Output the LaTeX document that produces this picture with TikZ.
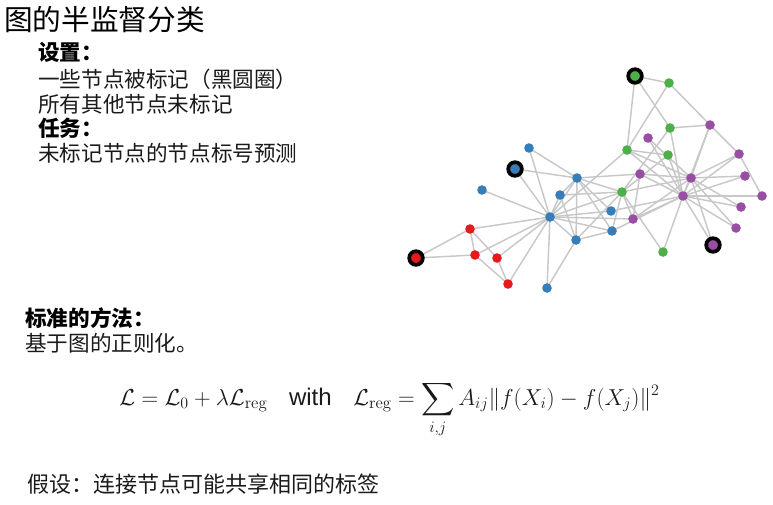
\documentclass[tikz,border=0pt]{standalone}
\usepackage{fontspec}
\usepackage{amsmath}
\usetikzlibrary{backgrounds}
\newfontfamily\cjk{Noto Sans CJK SC}
\newfontfamily\sfw{Liberation Sans}
\definecolor{cR}{HTML}{E41A1C}
\definecolor{cB}{HTML}{377EB8}
\definecolor{cG}{HTML}{4DAF4A}
\definecolor{cP}{HTML}{984EA3}
\definecolor{lnkgray}{HTML}{C8C8C8}
\definecolor{txtc}{HTML}{1A1A1A}
\begin{document}
\begin{tikzpicture}[x=0.75pt,y=-0.75pt,
  vtx/.style={circle,inner sep=0pt,minimum size=7.2pt,fill=#1},
  lab/.style={circle,inner sep=0pt,minimum size=10.2pt,draw=black,line width=2.8pt,fill=#1},
  lnk/.style={draw=lnkgray,line width=1.1pt},
  ttl/.style={anchor=west,inner sep=0pt,text=black,font=\cjk\fontsize{21.5pt}{24pt}\selectfont},
  body/.style={anchor=west,inner sep=0pt,text=txtc,font=\cjk\fontsize{16.2pt}{19pt}\selectfont},
  head/.style={anchor=west,inner sep=0pt,text=black,font=\cjk\bfseries\fontsize{16.2pt}{19pt}\selectfont}]
\useasboundingbox (0,0) rectangle (773,504);

% texts
\node[ttl] (title) at (4,20) {图的半监督分类};
\node[head] (set) at (38,52) {设置：};
\node[body] (t1) at (38,79) {一些节点被标记（黑圆圈）};
\node[body] (t2) at (38,104) {所有其他节点未标记};
\node[head] (task) at (38,128) {任务：};
\node[body] (t3) at (38,153) {未标记节点的节点标号预测};
\node[head] (std) at (25,318) {标准的方法：};
\node[body] (t4) at (25,343) {基于图的正则化。};
\node[anchor=base west,inner sep=0pt,text=txtc,font=\fontsize{18pt}{21pt}\selectfont] (eq) at (119,405)
  {$\mathcal{L} = \mathcal{L}_0 + \lambda\mathcal{L}_{\mathrm{reg}}\hspace{0.9em}\text{\sfw with}\hspace{0.9em}\mathcal{L}_{\mathrm{reg}} = \displaystyle\sum_{i,j} A_{ij}\|f(X_i) - f(X_j)\|^2$};
\node[body,font=\cjk\fontsize{16.5pt}{19pt}\selectfont] (t5) at (27,484) {假设：连接节点可能共享相同的标签};

% graph nodes
\node[vtx=cB] (k0) at (550,217) {};
\node[vtx=cB] (k1) at (577,178) {};
\node[vtx=cG] (k2) at (622,192) {};
\node[vtx=cB] (k3) at (576,240) {};
\node[vtx=cR] (k4) at (508,284) {};
\node[vtx=cR] (k5) at (470,229) {};
\node[vtx=cR] (k6) at (475,255) {};
\node[vtx=cB] (k7) at (560,195) {};
\node[vtx=cP] (k8) at (633,219) {};
\node[vtx=cG] (k9) at (663,252) {};
\node[vtx=cR] (k10) at (497,258) {};
\node[vtx=cB] (k11) at (482,190) {};
\node[vtx=cB] (k12) at (547,288) {};
\node[vtx=cB] (k13) at (612,231) {};
\node[vtx=cP] (k14) at (648,138) {};
\node[vtx=cP] (k15) at (745,176) {};
\node[lab=cR] (k16) at (416,258) {};
\node[vtx=cB] (k17) at (529,148) {};
\node[vtx=cP] (k18) at (741,207) {};
\node[vtx=cB] (k19) at (611,211) {};
\node[vtx=cP] (k20) at (736,228) {};
\node[lab=cB] (k21) at (515,169) {};
\node[lab=cP] (k22) at (713,245) {};
\node[vtx=cP] (k23) at (710,125) {};
\node[lab=cG] (k24) at (635,76) {};
\node[vtx=cG] (k25) at (669,83) {};
\node[vtx=cP] (k26) at (762,196) {};
\node[vtx=cG] (k27) at (670,128) {};
\node[vtx=cG] (k28) at (668,155) {};
\node[vtx=cP] (k29) at (739,154) {};
\node[vtx=cP] (k30) at (640,174) {};
\node[vtx=cG] (k31) at (627,150) {};
\node[vtx=cP] (k32) at (691,178) {};
\node[vtx=cP] (k33) at (683,196) {};

\begin{scope}[on background layer]
\foreach \a/\b in {0/1,0/2,0/3,0/4,0/5,0/6,0/7,0/8,0/10,0/11,0/12,0/13,0/17,0/19,0/21,0/31,
  1/2,1/3,1/7,1/13,1/17,1/19,1/21,1/30,
  2/3,2/7,2/8,2/9,2/13,2/27,2/28,2/32,
  3/7,3/12,3/13,4/6,4/10,5/6,5/10,5/16,6/16,
  8/30,8/32,8/33,9/33,13/33,14/32,14/33,15/32,15/33,18/32,18/33,19/33,20/32,20/33,22/32,22/33,
  23/25,23/27,23/29,23/32,23/33,24/25,24/27,24/31,25/31,26/29,26/33,27/33,28/31,28/33,
  29/32,29/33,30/32,30/33,31/32,31/33,32/33}
  \draw[lnk] (k\a.center) -- (k\b.center);
\end{scope}
\end{tikzpicture}
\end{document}
